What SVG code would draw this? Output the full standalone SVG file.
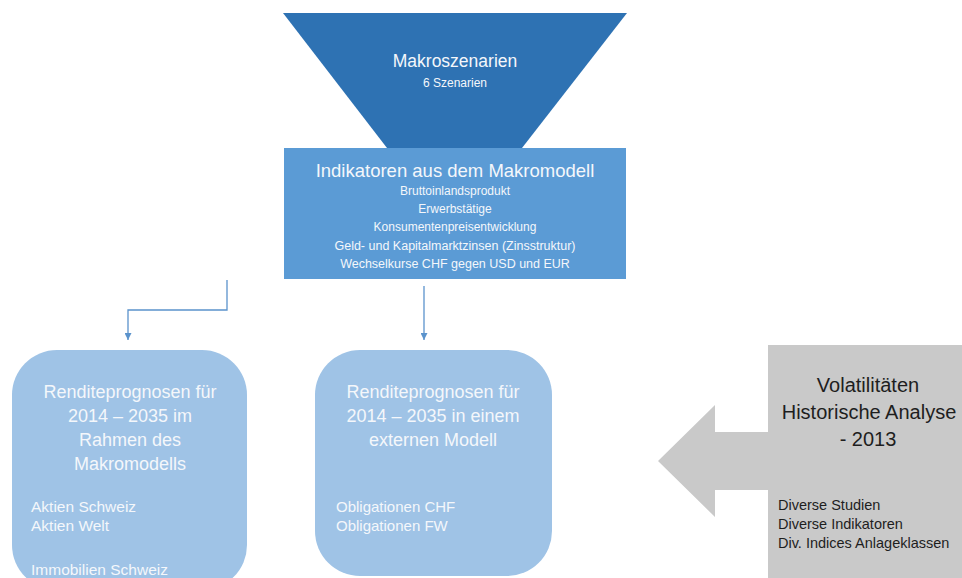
<svg xmlns="http://www.w3.org/2000/svg" width="962" height="578" viewBox="0 0 962 578">
<defs>
<style>
text{font-family:"Liberation Sans",Arial,sans-serif;}
.w{fill:#f4f7fb;text-anchor:middle;}
.wl{fill:#f4f7fb;}
.d{fill:#1e1e1e;text-anchor:middle;}
.dl{fill:#1e1e1e;}
.conn{fill:none;stroke:#5b93cc;stroke-width:1.3;}
.soft{fill:#9fc3e6;}
</style>
<marker id="ah" viewBox="0 0 10 10" refX="10" refY="5" markerWidth="7" markerHeight="7" markerUnits="userSpaceOnUse" orient="auto">
<path d="M0,0 L10,5 L0,10 z" fill="#5b93cc"/>
</marker>
</defs>
<rect width="962" height="578" fill="#ffffff"/>

<g id="makroszenarien">
<polygon points="283,13 627,13 522,148 387,148" fill="#2e72b3"/>
<text class="w" x="455" y="67" font-size="17.5">Makroszenarien</text>
<text class="w" x="455" y="87" font-size="12">6 Szenarien</text>
</g>

<g id="indikatoren">
<rect x="284" y="148" width="342" height="131" fill="#5b9bd5"/>
<text class="w" x="455" y="177" font-size="18.5">Indikatoren aus dem Makromodell</text>
<text class="w" x="455" y="195" font-size="12">Bruttoinlandsprodukt</text>
<text class="w" x="455" y="213" font-size="12">Erwerbstätige</text>
<text class="w" x="455" y="231" font-size="12">Konsumentenpreisentwicklung</text>
<text class="w" x="455" y="250" font-size="12.5">Geld- und Kapitalmarktzinsen (Zinsstruktur)</text>
<text class="w" x="455" y="268" font-size="12.5">Wechselkurse CHF gegen USD und EUR</text>
</g>

<g id="connectors">
<path class="conn" d="M227,280 V310 H128 V340" marker-end="url(#ah)"/>
<path class="conn" d="M424,286 V340" marker-end="url(#ah)"/>
</g>

<g id="makromodell-prognosen">
<rect class="soft" x="12" y="350" width="235" height="240" rx="45" ry="45"/>
<text class="w" x="130" y="398" font-size="18">Renditeprognosen  für</text>
<text class="w" x="130" y="422" font-size="18">2014 – 2035 im</text>
<text class="w" x="130" y="446" font-size="18">Rahmen  des</text>
<text class="w" x="130" y="470" font-size="18">Makromodells</text>
<text class="wl" x="31" y="512" font-size="15.5">Aktien Schweiz</text>
<text class="wl" x="31" y="531" font-size="15.5">Aktien Welt</text>
<text class="wl" x="31" y="575" font-size="15.5">Immobilien Schweiz</text>
</g>

<g id="externes-modell">
<rect class="soft" x="315" y="350" width="237" height="226" rx="45" ry="45"/>
<text class="w" x="433" y="398" font-size="18">Renditeprognosen  für</text>
<text class="w" x="433" y="422" font-size="18">2014 – 2035 in einem</text>
<text class="w" x="433" y="446" font-size="18">externen  Modell</text>
<text class="wl" x="336" y="512" font-size="15">Obligationen CHF</text>
<text class="wl" x="336" y="531" font-size="15">Obligationen FW</text>
</g>

<g id="volatilitaeten">
<path d="M768,345 H962 V578 H768 V490 H715 V517 L658,461 L715,405 V432 H768 Z" fill="#c9c9c9"/>
<text class="d" x="868" y="392" font-size="20">Volatilitäten</text>
<text class="d" x="869" y="419" font-size="20">Historische Analyse</text>
<text class="d" x="868" y="446" font-size="20">- 2013</text>
<text class="dl" x="778" y="510" font-size="14.5">Diverse Studien</text>
<text class="dl" x="778" y="529" font-size="14.5">Diverse Indikatoren</text>
<text class="dl" x="778" y="548" font-size="14.5">Div. Indices Anlageklassen</text>
</g>
</svg>
